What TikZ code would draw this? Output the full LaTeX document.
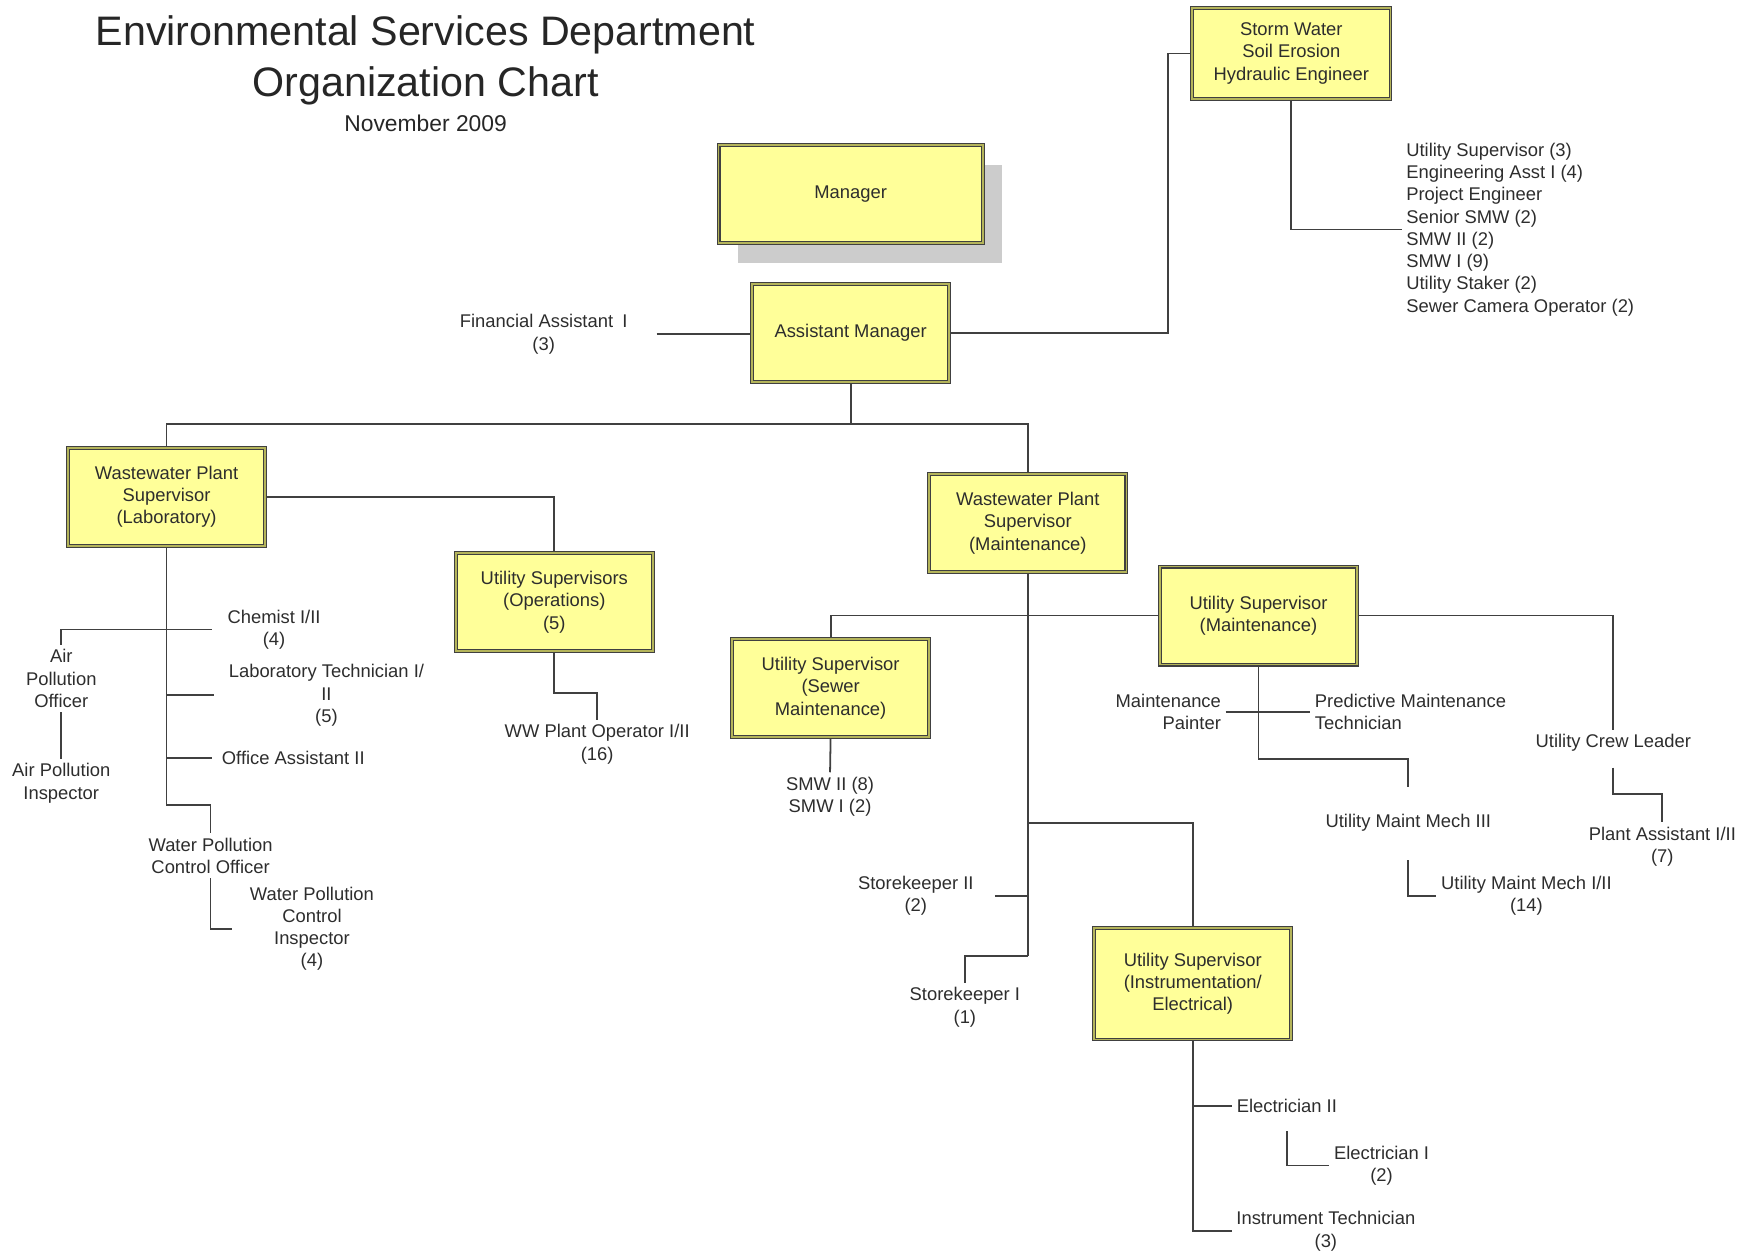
\documentclass[tikz,border=0pt]{standalone}
\usepackage{fontspec}
\setmainfont{Liberation Sans}
\usetikzlibrary{shadows}
\usetikzlibrary{backgrounds}
\definecolor{boxfill}{RGB}{255,255,153}
\definecolor{boxband}{RGB}{180,180,90}
\definecolor{inkgray}{RGB}{45,45,45}
\newcommand{\chartfont}{\fontsize{16.5}{20}\selectfont}

\begin{document}
\begin{tikzpicture}[x=1pt,y=-1pt,
		post/.style={draw=black!75,double=boxband,double distance=1.5pt,line width=1pt,fill=boxfill,minimum width=177pt,minimum height=88pt,align=center,font=\chartfont,text=inkgray,inner sep=2pt},
		staff/.style={align=center,font=\chartfont,text=inkgray,inner sep=4pt,yshift=-2pt},
		link/.style={draw=black!75,line width=1.6pt}
		]
		\useasboundingbox (0,0) rectangle (1568,1125);
		% title
		\node (title) [font=\fontsize{37}{46}\selectfont,align=center,text=black!85] at (382,54) {Environmental Services Department\\Organization Chart};
		\node (date) [font=\fontsize{20.5}{24}\selectfont,text=black!85] at (382,111) {November 2009};
		% boxes
		\node (mgr) [post,minimum width=237pt,drop shadow={shadow xshift=17pt,shadow yshift=-18pt,fill=black!20,opacity=1}] at (763.5,174) {Manager};
		\node (sw) [post,minimum width=178pt,minimum height=82pt] at (1159,48) {Storm Water\\Soil Erosion\\Hydraulic Engineer};
		\node (am) [post] at (763.5,299) {Assistant Manager};
		\node (lab) [post] at (149.5,446) {Wastewater Plant\\Supervisor\\(Laboratory)};
		\node (ops) [post] at (497.5,540.5) {Utility Supervisors\\(Operations)\\(5)};
		\node (wwm) [post] at (922.5,469.5) {Wastewater Plant\\Supervisor\\(Maintenance)};
		\node (usm) [post] at (1129.5,552.5) {Utility Supervisor\\(Maintenance)};
		\node (sewer) [post] at (745.5,617.5) {Utility Supervisor\\(Sewer\\Maintenance)};
		\node (inst) [post,minimum height=100pt] at (1070.5,883) {Utility Supervisor\\(Instrumentation/\\Electrical)};
		% staff
		\node (fin) [staff] at (488,298) {Financial Assistant\enspace I\\(3)};
		\node (swlist) [staff,align=left,anchor=west] at (1258,204) {Utility Supervisor (3)\\Engineering Asst I (4)\\Project Engineer\\Senior SMW (2)\\SMW II (2)\\SMW I (9)\\Utility Staker (2)\\Sewer Camera Operator (2)};
		\node (chem) [staff] at (246,563) {Chemist I/II\\(4)};
		\node (labtech) [staff] at (293,622) {Laboratory Technician I/\\II\\(5)};
		\node (offasst) [staff,anchor=west] at (195,678) {Office Assistant II};
		\node (apo) [staff] at (55,607) {Air\\Pollution\\Officer};
		\node (api) [staff] at (55,701) {Air Pollution\\Inspector};
		\node (wpco) [staff] at (189,766) {Water Pollution\\Control Officer};
		\node (wpci) [staff] at (280,831.5) {Water Pollution\\Control\\Inspector\\(4)};
		\node (wwop) [staff] at (536,666) {WW Plant Operator I/II\\(16)};
		\node (smw) [staff] at (745,713) {SMW II (8)\\SMW I (2)};
		\node (sk2) [staff] at (822,802) {Storekeeper II\\(2)};
		\node (sk1) [staff] at (866,902) {Storekeeper I\\(1)};
		\node (painter) [staff,align=right,anchor=east] at (1100,637) {Maintenance\\Painter};
		\node (pmt) [staff,align=left,anchor=west] at (1176,637) {Predictive Maintenance\\Technician};
		\node (ucl) [staff] at (1448,665) {Utility Crew Leader};
		\node (pa) [staff] at (1492,758) {Plant Assistant I/II\\(7)};
		\node (umm3) [staff] at (1264,736) {Utility Maint Mech III};
		\node (umm12) [staff] at (1370,802) {Utility Maint Mech I/II\\(14)};
		\node (elec2) [staff] at (1155,991) {Electrician II};
		\node (elec1) [staff] at (1240,1044) {Electrician I\\(2)};
		\node (itech) [staff] at (1190,1103) {Instrument Technician\\(3)};
		% connectors
		\begin{scope}[on background layer]
		\draw[link] (am.east) -- ++(196,0) |- (sw.west);
		\draw[link,shorten <=22pt] (fin.east) -- (fin.east -| am.west);
		\draw[link] (sw.south) |- (swlist.west);
		\draw[link] (am.south) -- ++(0,37) coordinate (amjoint);
		\draw[link] (amjoint) -| (lab.north);
		\draw[link] (amjoint) -| (wwm.north);
		\draw[link] (lab.east) -| (ops.north);
		\draw[link] (ops.south) -- ++(0,37) -| (wwop.north);
		\draw[link] (lab.south) -- ++(0,232) -| (wpco.north);
		\draw[link,shorten >=10pt] (lab.south |- chem.west) -- (chem.west);
		\draw[link] (lab.south |- chem.west) -| (apo.north);
		\draw[link,shorten >=9pt] (lab.south |- labtech.west) -- (labtech.west);
		\draw[link,shorten >=5pt] (lab.south |- offasst.west) -- (offasst.west);
		\draw[link] (apo.south) -- (api.north);
		\draw[link,shorten >=12pt] (wpco.south) |- (wpci.west);
		\draw[link] (wwm.south) -- ++(0,344) coordinate (wwmfoot);
		\draw[link] (wwmfoot) -| (sk1.north);
		\draw[link,shorten <=15pt] (sk2.east) -- (sk2.east -| wwm.south);
		\draw[link] (wwm.south) ++(0,225) -| (inst.north);
		\draw[link] (sewer.north) |- (usm.west);
		\draw[link] (sewer.south) -- (smw.north);
		\draw[link] (usm.east) -| (ucl.north);
		\draw[link,shorten <=10pt] (ucl.south) -- ++(0,34) -| (pa.north);
		\draw[link,shorten >=20pt] (usm.south) -- ++(0,84) -| (umm3.north);
		\draw[link,shorten <=22pt] (umm3.south) |- (umm12.west);
		\draw[link] (painter.east) -- (pmt.west);
		\draw[link] (inst.south) |- (itech.west);
		\draw[link] (inst.south |- elec2.west) -- (elec2.west);
		\draw[link,shorten <=12pt] (elec2.south) |- (elec1.west);
		\end{scope}
\end{tikzpicture}
\end{document}
